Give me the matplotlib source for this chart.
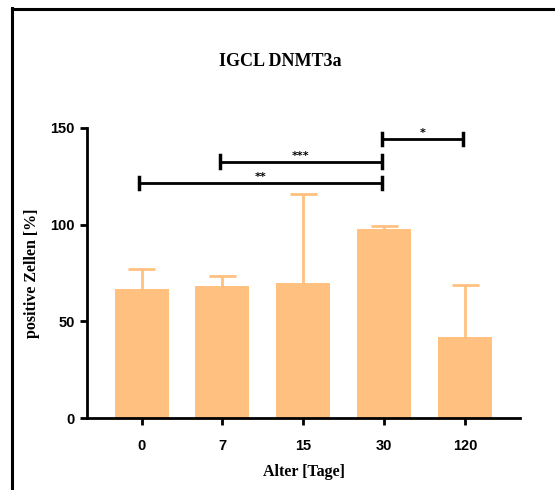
import matplotlib
matplotlib.use("Agg")
import matplotlib.pyplot as plt
from matplotlib.lines import Line2D
import numpy as np

# data
groups = ["0", "7", "15", "30", "120"]
means = [66.7, 68.3, 69.8, 98.0, 41.9]
sd_upper = [10.3, 5.2, 46.0, 1.5, 26.7]

# significance brackets: (left group, right group, height, label)
brackets = [(0, 3, 121.6, "**"), (1, 3, 132.6, "***"), (3, 4, 144.3, "*")]

bar_color = "#FFC080"

fig = plt.figure(figsize=(5.55, 4.9), dpi=100)
ax = fig.add_axes([0.1568, 0.1469, 0.7802, 0.5919])

x = np.arange(len(groups))
tops = np.array(means) + np.array(sd_upper)
ax.bar(x, means, width=0.667, color=bar_color, zorder=2)
# upper-only error bars (no cap at the bar top)
ax.vlines(x, means, tops, color=bar_color, lw=2, zorder=1)
ax.hlines(tops, x - 0.167, x + 0.167, color=bar_color, lw=2, zorder=1)

for x0, x1, h, lab in brackets:
    ax.plot([x0 - 0.03, x1 - 0.03], [h, h], color="black", lw=2,
            solid_capstyle="butt", clip_on=False)
    for xe in (x0 - 0.03, x1 - 0.03):
        ax.plot([xe, xe], [h - 3.2, h + 3.2], color="black", lw=2.5, clip_on=False)
    ax.text((x0 + x1) / 2 - 0.03, h + 0.5, lab, ha="center", va="bottom",
            fontsize=8, fontweight="bold", family="DejaVu Sans")

ax.set_xlim(-0.675, 4.68)
ax.set_ylim(0, 150)
ax.set_yticks([0, 50, 100, 150])
ax.set_xticks(x)
ax.set_xticklabels(groups)

for s in ["top", "right"]:
    ax.spines[s].set_visible(False)
for s in ["left", "bottom"]:
    ax.spines[s].set_linewidth(2)

ax.tick_params(axis="both", width=2, length=5, labelsize=10.5)
ax.tick_params(axis="x", pad=10)
ax.tick_params(axis="y", pad=4)
for lbl in ax.get_xticklabels() + ax.get_yticklabels():
    lbl.set_fontweight("bold")
    lbl.set_family("Liberation Sans")

ax.set_ylabel("positive Zellen [%]", fontsize=11.5, fontweight="bold",
              family="Liberation Serif", labelpad=7)
ax.set_xlabel("Alter [Tage]", fontsize=11.5, fontweight="bold",
              family="Liberation Serif", labelpad=8)

fig.text(0.505, 1 - 62 / 490, "IGCL DNMT3a", ha="center", va="center",
         fontsize=13, fontweight="bold", family="Liberation Serif")

# outer frame (left and top edges only)
fig.add_artist(Line2D([12 / 555, 12 / 555], [0, 1 - 8 / 490], color="black", lw=2.2,
                      transform=fig.transFigure))
fig.add_artist(Line2D([12 / 555, 1], [1 - 9 / 490, 1 - 9 / 490], color="black", lw=2.2,
                      transform=fig.transFigure))

fig.savefig("out.png", dpi=100)
